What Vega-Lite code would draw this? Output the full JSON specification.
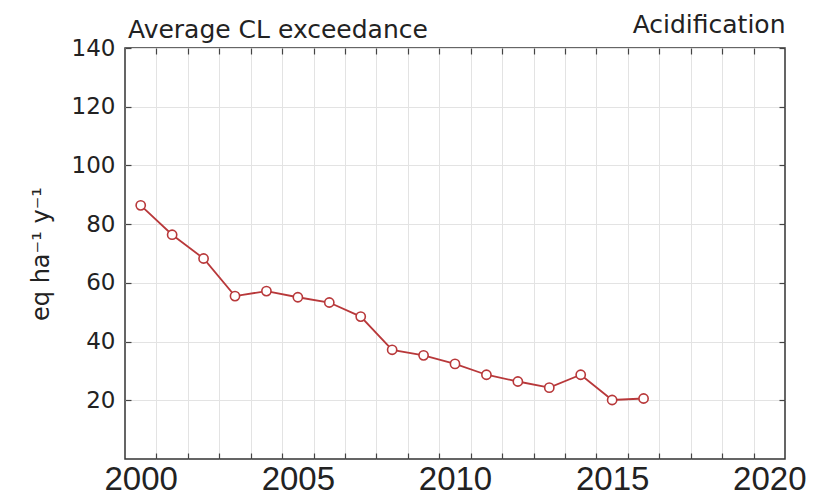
{
  "$schema": "https://vega.github.io/schema/vega-lite/v6.json",
  "width": 660,
  "height": 411,
  "autosize": {"type": "none"},
  "padding": {"left": 125, "top": 48, "right": 29, "bottom": 36},
  "background": "white",
  "config": {
    "font": "DejaVu Sans",
    "view": {"stroke": "#333333", "strokeWidth": 1.5},
    "axis": {"domain": false, "labelFont": "DejaVu Sans", "titleFont": "DejaVu Sans", "labelColor": "#222222", "titleColor": "#222222", "tickColor": "#444444", "tickWidth": 1.2, "gridColor": "#e3e3e3", "gridWidth": 1}
  },
  "title": {"text": "Average CL exceedance", "anchor": "start", "frame": "group", "fontSize": 25, "fontWeight": "normal", "color": "#222222", "baseline": "alphabetic", "offset": -51, "font": "DejaVu Sans", "dx": 3},
  "data": {"values": [
    {"year": 2000, "value": 86.4},
    {"year": 2001, "value": 76.4},
    {"year": 2002, "value": 68.3},
    {"year": 2003, "value": 55.5},
    {"year": 2004, "value": 57.2},
    {"year": 2005, "value": 55.1},
    {"year": 2006, "value": 53.3},
    {"year": 2007, "value": 48.5},
    {"year": 2008, "value": 37.2},
    {"year": 2009, "value": 35.3},
    {"year": 2010, "value": 32.4},
    {"year": 2011, "value": 28.7},
    {"year": 2012, "value": 26.4},
    {"year": 2013, "value": 24.3},
    {"year": 2014, "value": 28.7},
    {"year": 2015, "value": 20.1},
    {"year": 2016, "value": 20.6}
  ]},
  "layer": [
    {
      "mark": {"type": "line", "color": "#b8383a", "strokeWidth": 1.8},
      "encoding": {
        "x": {"field": "year", "type": "quantitative", "scale": {"domain": [1999.5, 2020.5], "nice": false, "zero": false},
          "axis": {"orient": "bottom", "title": null,
            "values": [2000, 2000.5, 2001.5, 2002.5, 2003.5, 2004.5, 2005, 2005.5, 2006.5, 2007.5, 2008.5, 2009.5, 2010, 2010.5, 2011.5, 2012.5, 2013.5, 2014.5, 2015, 2015.5, 2016.5, 2017.5, 2018.5, 2019.5, 2020],
            "labelExpr": "datum.value % 5 == 0 ? '' + datum.value : ''",
            "labelFont": "Liberation Sans",
            "labelOverlap": false, "labelFlush": false, "labelFontSize": 33, "labelPadding": 10,
            "tickSize": -6,
            "tickOpacity": {"condition": {"test": "datum.value % 1 == 0", "value": 0}, "value": 1},
            "grid": true,
            "gridOpacity": {"condition": {"test": "datum.value % 1 == 0", "value": 0}, "value": 1}}},
        "y": {"field": "value", "type": "quantitative", "scale": {"domain": [0, 140], "nice": false, "zero": true},
          "axis": {"orient": "left", "title": "eq ha⁻¹ y⁻¹", "titleFontSize": 24, "titleFontWeight": "normal", "titlePadding": 18,
            "values": [20, 40, 60, 80, 100, 120, 140], "labelFontSize": 23, "labelPadding": 16, "tickSize": -6, "grid": true}}
      }
    },
    {
      "mark": {"type": "point", "shape": "circle", "filled": true, "fill": "white", "stroke": "#b8383a", "strokeWidth": 1.6, "size": 85, "opacity": 1},
      "encoding": {
        "x": {"field": "year", "type": "quantitative",
          "axis": {"orient": "top", "title": "Acidification", "titleAnchor": "end", "titleFontSize": 25, "titleFontWeight": "normal", "titlePadding": 15, "titleBaseline": "alphabetic",
            "values": [2000.5, 2001.5, 2002.5, 2003.5, 2004.5, 2005.5, 2006.5, 2007.5, 2008.5, 2009.5, 2010.5, 2011.5, 2012.5, 2013.5, 2014.5, 2015.5, 2016.5, 2017.5, 2018.5, 2019.5],
            "labels": false, "tickSize": -6, "grid": false}},
        "y": {"field": "value", "type": "quantitative",
          "axis": {"orient": "right", "title": null, "values": [20, 40, 60, 80, 100, 120, 140], "labels": false, "tickSize": -6, "grid": false}}
      }
    }
  ],
  "resolve": {"axis": {"x": "independent", "y": "independent"}}
}
